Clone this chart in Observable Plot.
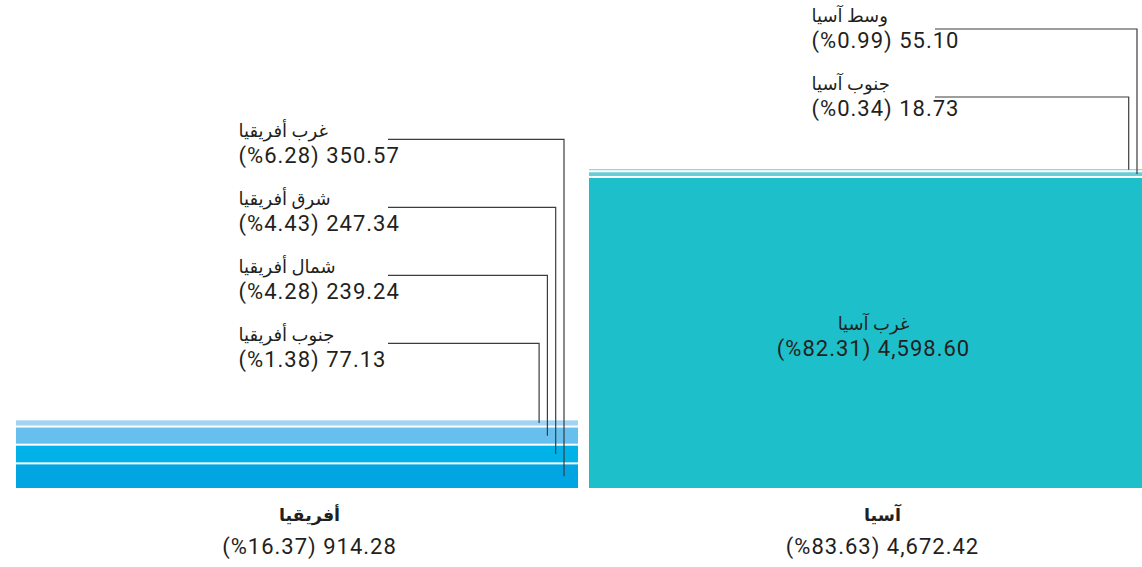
<!DOCTYPE html>
<html><head><meta charset="utf-8">
<script src="https://cdn.jsdelivr.net/npm/d3@7"></script>
<script src="https://cdn.jsdelivr.net/npm/@observablehq/plot@0.6"></script>
<style>
body{margin:0;background:#fff;overflow:hidden;}
</style></head><body><div id="chart"></div>
<script>
// ---- data ----
const continents = ["أفريقيا", "آسيا"];
const continentTotals = [914.28, 4672.42];
const continentShares = [16.37, 83.63];

// listed bottom-to-top within each continent
const regions = ["غرب أفريقيا", "شرق أفريقيا", "شمال أفريقيا", "جنوب أفريقيا", "غرب آسيا", "وسط آسيا", "جنوب آسيا"];
const regionContinent = ["أفريقيا", "أفريقيا", "أفريقيا", "أفريقيا", "آسيا", "آسيا", "آسيا"];
const regionValues = [350.57, 247.34, 239.24, 77.13, 4598.60, 55.10, 18.73];
const regionShares = [6.28, 4.43, 4.28, 1.38, 82.31, 0.99, 0.34];
const regionColors = ["#00a5e1", "#00b2e7", "#66bfed", "#a0d4f2", "#1dbfcb", "#69cdd5", "#92d8de"];

// ---- layout ----
const W = 1142, H = 567, mTop = 169, mBottom = 79, gapPx = 2;
const innerH = H - mTop - mBottom;
const fmt = d3.format(",.2f");
const numText = (v, p) => `(%${p.toFixed(2)}) ${fmt(v)}`;

const byCont = continents.map(c => regions.map((r, i) => i).filter(i => regionContinent[i] === c));
const s = d3.min(byCont, idx => (innerH - (idx.length - 1) * gapPx) / d3.sum(idx, i => regionValues[i]));
const yMax = innerH / s;
const gapU = gapPx / s;

const segs = [];
const outside = [];
const inside = [];
const startOff = {"أفريقيا": 150, "آسيا": 124};
const lineOff = {"أفريقيا": 3, "آسيا": 8};
byCont.forEach((idx, ci) => {
  let cum = 0;
  const cs = idx.map((i, j) => {
    const y1 = cum + j * gapU, y2 = y1 + regionValues[i];
    cum += regionValues[i];
    const d = {name: regions[i], continent: continents[ci], value: regionValues[i], share: regionShares[i], y1, y2, ym: (y1 + y2) / 2};
    segs.push(d);
    return d;
  });
  const top = cs[cs.length - 1].y2;
  const out = cs.filter(d => d.value * s < 60);
  cs.filter(d => d.value * s >= 60).forEach(d => inside.push(d));
  out.forEach((d, i) => {
    const k = out.length - 1 - i;
    d.yNum = top + (54 + 68 * k) / s;
    d.yName = d.yNum + 26 / s;
    d.yLine = d.yName - lineOff[d.continent] / s;
    d.rightOff = 14 + 8.3 * i;
    d.startOff = startOff[d.continent];
    outside.push(d);
  });
});
const totals = continents.map((c, i) => ({continent: c, text: numText(continentTotals[i], continentShares[i])}));

const labelDx = -59;
function leaders(index, scales) {
  const g = d3.create("svg:g").attr("fill", "none").attr("stroke", "#3c3c3c").attr("stroke-width", 1.2);
  const bw = scales.x.bandwidth ? scales.x.bandwidth() : 0;
  for (const d of outside) {
    const x0 = scales.x(d.continent);
    const xv = x0 + bw - d.rightOff;
    const xs = x0 + bw / 2 + labelDx + d.startOff;
    g.append("path").attr("d", `M${xs},${scales.y(d.yLine)}H${xv}V${scales.y(d.ym)}`);
  }
  return g.node();
}

const font = "Roboto, 'DejaVu Sans', sans-serif";
const ink = "#231f20";
const chart = Plot.plot({
  width: W, height: H,
  marginTop: mTop, marginBottom: mBottom, marginLeft: 16, marginRight: 0,
  style: {fontFamily: font, background: "#fff", color: ink},
  x: {domain: continents, range: [16, 1151], paddingInner: 0.0192, paddingOuter: 0, round: false, axis: null},
  y: {domain: [0, yMax], axis: null},
  color: {domain: regions, range: regionColors},
  marks: [
    Plot.barY(segs, {x: "continent", y1: "y1", y2: "y2", fill: "name"}),
    leaders,
    Plot.text(outside, {x: "continent", y: "yName", text: "name", textAnchor: "start", lineAnchor: "bottom", dx: labelDx, fontSize: 18, fill: ink}),
    Plot.text(outside, {x: "continent", y: "yNum", text: d => numText(d.value, d.share), textAnchor: "start", lineAnchor: "bottom", dx: labelDx, fontSize: 22, fill: ink}),
    Plot.text(inside, {x: "continent", y: "ym", text: "name", lineAnchor: "bottom", dx: 3, dy: -3, fontSize: 18, fill: ink}),
    Plot.text(inside, {x: "continent", y: "ym", text: d => numText(d.value, d.share), lineAnchor: "bottom", dx: 3, dy: 23, fontSize: 22, fill: ink}),
    Plot.text(totals, {x: "continent", y: 0, text: "continent", lineAnchor: "bottom", dx: 12, dy: 32, fontSize: 17.5, fontWeight: "bold", fill: ink}),
    Plot.text(totals, {x: "continent", y: 0, text: "text", lineAnchor: "bottom", dx: 12, dy: 65, fontSize: 22, fill: ink})
  ]
});
d3.select(chart).selectAll("text").filter(function () { return /\d/.test(this.textContent); }).attr("letter-spacing", "1");
document.getElementById("chart").appendChild(chart);
</script></body></html>
